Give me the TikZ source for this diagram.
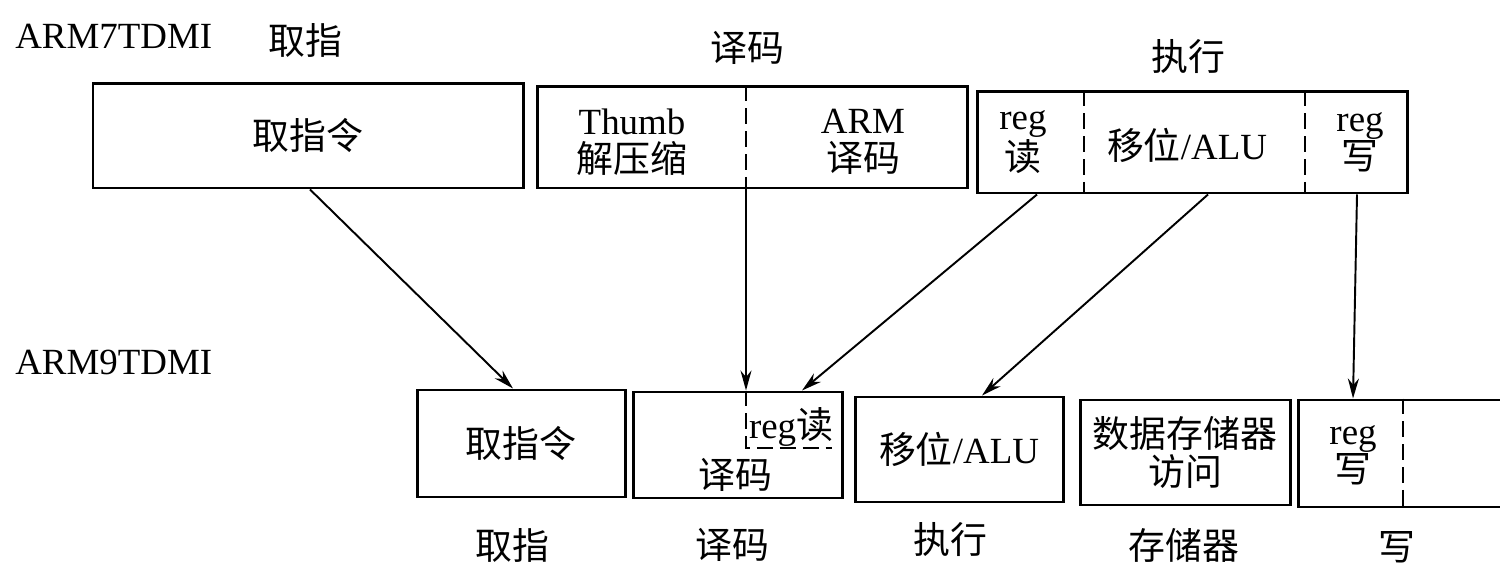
\documentclass[tikz,border=0pt]{standalone}
\usepackage{fontspec}
\setmainfont{Liberation Serif}
\newfontfamily\cjk{Noto Sans CJK SC}
\newcommand{\zh}[1]{{\cjk #1}}
\usetikzlibrary{arrows.meta}

\begin{document}
\begin{tikzpicture}[>={Stealth[length=4mm,width=2.2mm]},
  font=\fontsize{21}{21.5}\selectfont,
  stage/.style={draw, line width=1.7pt, inner sep=0pt, align=center},
  lbl/.style={inner sep=0pt, align=center},
  sep/.style={line width=1.1pt, dash pattern=on 9pt off 4pt},
  flow/.style={->, line width=1.1pt}]

\clip (0,0) rectangle (30,-11.3);

% ARM7TDMI
\node[lbl, anchor=west] (arm7) at (0.3,-0.72) {ARM7TDMI};
\node[lbl] (t7fetch) at (6.1,-0.8) {\zh{取指}};
\node[lbl] (t7decode) at (14.94,-0.96) {\zh{译码}};
\node[lbl] (t7exec) at (23.76,-1.14) {\zh{执行}};

\node[stage, minimum width=8.6cm, minimum height=2.08cm] (fetch7) at (6.16,-2.72) {\zh{取指令}};
\node[stage, minimum width=8.6cm, minimum height=2.02cm] (decode7) at (15.04,-2.75) {};
\node[stage, minimum width=8.6cm, minimum height=2.02cm] (exec7) at (23.84,-2.85) {};

\draw[sep] ([xshift=-0.12cm]decode7.north) -- ([xshift=-0.12cm]decode7.south);
\draw[sep] ([xshift=-2.16cm]exec7.north) -- ([xshift=-2.16cm]exec7.south);
\draw[sep] ([xshift=2.26cm]exec7.north) -- ([xshift=2.26cm]exec7.south);

\node[lbl] (thumb7) at (12.64,-2.84) {Thumb\\\zh{解压缩}};
\node[lbl] (arm7dec) at (17.26,-2.84) {ARM\\\zh{译码}};
\node[lbl] (rdreg7) at (20.46,-2.84) {reg\\\zh{读}};
\node[lbl] (alu7) at (23.74,-2.9) {\zh{移位}/ALU};
\node[lbl] (wrreg7) at (27.2,-2.84) {reg\\\zh{写}};

% ARM9TDMI
\node[lbl, anchor=west] (arm9) at (0.3,-7.24) {ARM9TDMI};

\node[stage, minimum width=4.16cm, minimum height=2.14cm] (fetch9) at (10.42,-8.87) {\zh{取指令}};
\node[stage, minimum width=4.18cm, minimum height=2.12cm] (decode9) at (14.75,-8.9) {};
\node[stage, minimum width=4.16cm, minimum height=2.1cm] (exec9) at (19.18,-8.99) {\zh{移位}/ALU};
\node[stage, minimum width=4.2cm, minimum height=2.1cm] (mem9) at (23.7,-9.05) {\zh{数据存储器}\\\zh{访问}};
\node[stage, minimum width=5.24cm, minimum height=2.14cm] (write9) at (28.58,-9.07) {};

\draw[sep] ([xshift=0.17cm]decode9.north) |- ([xshift=-0.24cm,yshift=-0.06cm]decode9.east);
\draw[sep] ([xshift=-0.52cm]write9.north) -- ([xshift=-0.52cm]write9.south);

\node[lbl] (rdreg9) at (15.82,-8.54) {reg\zh{读}};
\node[lbl] (dec9) at (14.7,-9.5) {\zh{译码}};
\node[lbl] (wrreg9) at (27.06,-9.1) {reg\\\zh{写}};

\node[lbl] (t9fetch) at (10.24,-10.9) {\zh{取指}};
\node[lbl] (t9decode) at (14.64,-10.9) {\zh{译码}};
\node[lbl] (t9exec) at (19.0,-10.8) {\zh{执行}};
\node[lbl] (t9mem) at (23.68,-10.9) {\zh{存储器}};
\node[lbl] (t9write) at (27.94,-10.94) {\zh{写}};

% Mapping
\draw[flow] ([xshift=0.04cm]fetch7.south) -- ([xshift=-0.16cm]fetch9.north);
\draw[flow] ([xshift=-0.12cm]decode7.south) -- ([xshift=0.17cm]decode9.north);
\draw[flow] ([xshift=-3.1cm]exec7.south) -- ([xshift=1.29cm]decode9.north);
\draw[flow] ([xshift=0.32cm]exec7.south) -- ([xshift=0.46cm]exec9.north);
\draw[flow] ([xshift=3.3cm]exec7.south) -- ([xshift=-1.52cm]write9.north);

\end{tikzpicture}
\end{document}
